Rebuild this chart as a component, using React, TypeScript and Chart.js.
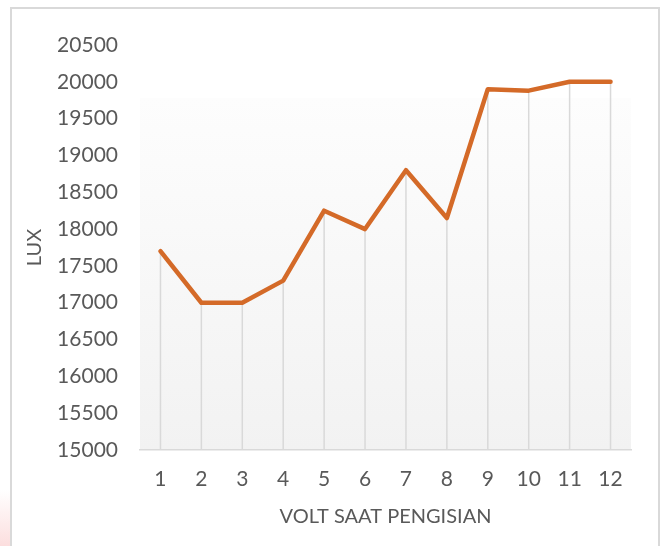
import React, { useEffect, useRef } from "react";
import { Chart, registerables } from "chart.js";

Chart.register(...registerables);

const categories: string[] = ["1", "2", "3", "4", "5", "6", "7", "8", "9", "10", "11", "12"];
const luxValues: number[] = [17700, 17000, 17000, 17300, 18250, 18000, 18800, 18150, 19900, 19880, 20000, 20000];
const yMin = 15000;
const yMax = 20500;
const yStep = 500;
const xTitle = "VOLT SAAT PENGISIAN";
const yTitle = "LUX";

const TEXT = "#595959";
const LINE = "#D46A28";
const GRAY = "#d9d9d9";
const FONT = "Lato, 'Open Sans', sans-serif";

const decorPlugin = {
  id: "decor",
  beforeDraw(chart: any) {
    const { ctx, chartArea } = chart;
    ctx.save();
    ctx.fillStyle = "#ffffff";
    ctx.fillRect(0, 0, chart.width, chart.height);
    // faint pink artifact bottom-left
    const pg = ctx.createLinearGradient(0, 490, 0, 546);
    pg.addColorStop(0, "rgba(250,200,200,0)");
    pg.addColorStop(1, "rgba(250,200,200,0.6)");
    ctx.fillStyle = pg;
    ctx.fillRect(0, 490, 10, 56);
    // outer border
    ctx.strokeStyle = GRAY;
    ctx.lineWidth = 2;
    ctx.strokeRect(11, 8, 648, 600);
    // plot-area gradient
    const h = chartArea.bottom - chartArea.top;
    const top = chartArea.top + h * 0.131;
    const g = ctx.createLinearGradient(0, top, 0, chartArea.bottom);
    g.addColorStop(0, "#fdfdfd");
    g.addColorStop(1, "#f2f2f2");
    ctx.fillStyle = g;
    ctx.fillRect(chartArea.left, top, chartArea.right - chartArea.left, chartArea.bottom - top);
    ctx.restore();
  },
  beforeDatasetsDraw(chart: any) {
    const { ctx, chartArea } = chart;
    const meta = chart.getDatasetMeta(0);
    ctx.save();
    ctx.strokeStyle = GRAY;
    ctx.lineWidth = 1.5;
    meta.data.forEach((pt: any) => {
      ctx.beginPath();
      ctx.moveTo(pt.x, pt.y);
      ctx.lineTo(pt.x, chartArea.bottom);
      ctx.stroke();
    });
    ctx.restore();
  },
};

export default function App() {
  const ref = useRef<HTMLCanvasElement>(null);
  useEffect(() => {
    if (!ref.current) return;
    const chart = new Chart(ref.current, {
      type: "line",
      data: {
        labels: categories,
        datasets: [
          {
            data: luxValues,
            borderColor: LINE,
            backgroundColor: LINE,
            borderWidth: 4.5,
            pointRadius: 0,
            tension: 0,
            borderCapStyle: "round",
            borderJoinStyle: "round",
          },
        ],
      },
      options: {
        responsive: false,
        animation: false,
        devicePixelRatio: 1,
        layout: { padding: { left: 12, top: 45, right: 32, bottom: 13 } },
        plugins: { legend: { display: false }, tooltip: { enabled: false } },
        scales: {
          x: {
            type: "category",
            offset: true,
            grid: { display: false, drawTicks: false },
            border: { display: true, color: GRAY, width: 1.5 },
            ticks: { color: TEXT, font: { family: FONT, size: 21 }, padding: 17 },
            title: {
              display: true,
              text: xTitle,
              color: TEXT,
              font: { family: FONT, size: 20 },
              padding: { top: 4, bottom: 4 },
            },
            afterFit(scale: any) {
              scale.height = 83;
            },
          },
          y: {
            min: yMin,
            max: yMax,
            grid: { display: false, drawTicks: false },
            border: { display: false },
            ticks: {
              stepSize: yStep,
              color: TEXT,
              font: { family: FONT, size: 21 },
              padding: 22,
              callback: (v: any) => String(v),
            },
            title: {
              display: true,
              text: yTitle,
              color: TEXT,
              font: { family: FONT, size: 20 },
              padding: { top: 11, bottom: 0 },
            },
            afterFit(scale: any) {
              scale.width = 128;
            },
          },
        },
      },
      plugins: [decorPlugin],
    });
    return () => chart.destroy();
  }, []);
  return (
    <div style={{ position: "fixed", left: 0, top: 0, width: 663, height: 546, background: "#fff" }}>
      <canvas ref={ref} width={663} height={546} style={{ display: "block" }} />
    </div>
  );
}
